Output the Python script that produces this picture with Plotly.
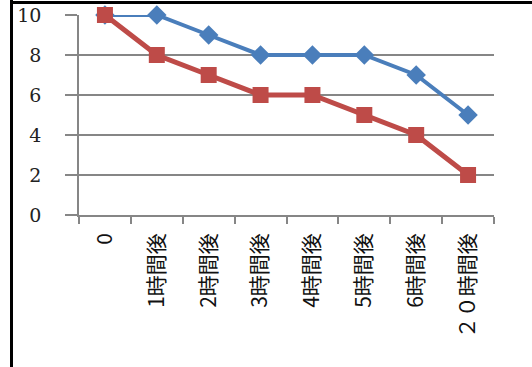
import plotly.graph_objects as go

categories = ["0", "1時間後", "2時間後", "3時間後", "4時間後", "5時間後", "6時間後", "２０時間後"]
blue_values = [10, 10, 9, 8, 8, 8, 7, 5]
red_values = [10, 8, 7, 6, 6, 5, 4, 2]
y_ticks = [0, 2, 4, 6, 8, 10]

L, R, T, B = 79, 38, 15, 152
W, H = 532, 367
pw, ph = W - L - R, H - T - B

fig = go.Figure()
fig.add_trace(go.Scatter(
    x=categories, y=blue_values, mode="lines+markers",
    line=dict(color="#4A7EBB", width=4),
    marker=dict(symbol="diamond", size=15, color="#4A7EBB"),
    showlegend=False, cliponaxis=False,
))
fig.add_trace(go.Scatter(
    x=categories, y=red_values, mode="lines+markers",
    line=dict(color="#BE4B48", width=5),
    marker=dict(symbol="square", size=16, color="#BE4B48"),
    showlegend=False, cliponaxis=False,
))

fig.update_layout(
    width=W, height=H,
    margin=dict(l=L, r=R, t=T, b=B, pad=0),
    paper_bgcolor="white", plot_bgcolor="white",
    xaxis=dict(
        type="category", tickson="boundaries", ticks="outside", ticklen=7,
        tickcolor="#868686", tickwidth=1.5, automargin=False,
        showline=True, linecolor="#868686", linewidth=1.5,
        showgrid=False, tickangle=-90,
        tickfont=dict(family="Noto Sans CJK JP", size=21, color="#111"),
        ticklabelstandoff=8,
        range=[-0.5, 7.5],
    ),
    yaxis=dict(
        range=[0, 10], tickvals=y_ticks, ticks="outside", ticklen=12,
        tickcolor="#868686", tickwidth=1.5, automargin=False,
        showline=True, linecolor="#868686", linewidth=1.5,
        showgrid=True, gridcolor="#868686", gridwidth=1.5,
        zeroline=False,
        tickfont=dict(family="DejaVu Serif", size=19, color="#222"),
        ticklabelstandoff=20,
    ),
    shapes=[
        dict(type="line", xref="paper", yref="paper", layer="above",
             x0=(11.5 - L) / pw, x1=(11.5 - L) / pw,
             y0=(H - B - 0) / ph, y1=(H - B - 367) / ph,
             line=dict(color="black", width=3)),
        dict(type="line", xref="paper", yref="paper", layer="above",
             x0=(10 - L) / pw, x1=(532 - L) / pw,
             y0=(H - B - 2.5) / ph, y1=(H - B - 2.5) / ph,
             line=dict(color="black", width=3)),
    ],
)

fig.write_html("out.html", config={"displayModeBar": False})
